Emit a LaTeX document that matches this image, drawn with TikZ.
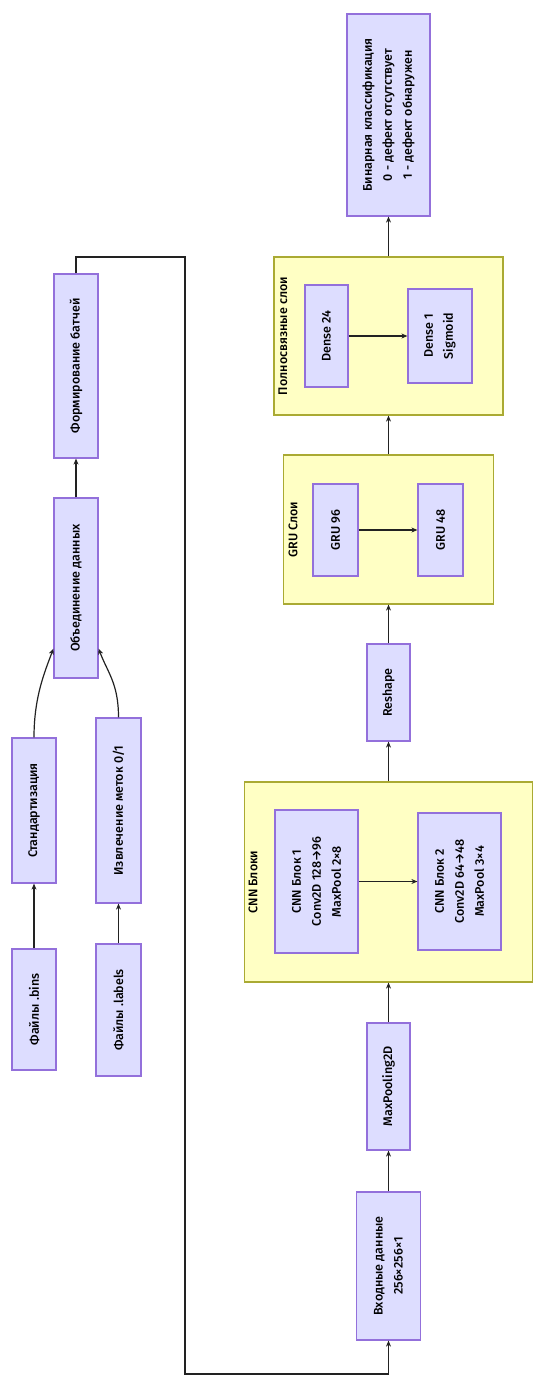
\documentclass[tikz,border=0pt]{standalone}
\usepackage{fontspec}
\setmainfont{Fira Sans}[BoldFont={* Medium}]
\usetikzlibrary{arrows.meta,calc}
\definecolor{boxfill}{RGB}{221,221,255}
\definecolor{boxline}{RGB}{147,112,219}
\definecolor{grpfill}{RGB}{255,255,196}
\definecolor{grpline}{RGB}{170,170,51}
\definecolor{edge}{RGB}{34,34,34}

\begin{document}
\begin{tikzpicture}[x=1pt,y=-1pt,
  box/.style={draw=boxline,fill=boxfill,line width=1.2pt,rotate=90,align=center,inner sep=0pt,font=\fontsize{12.5}{20}\selectfont\bfseries},
  grp/.style={draw=grpline,fill=grpfill,line width=1.2pt,rotate=90,inner sep=0pt},
  grptitle/.style={rotate=90,inner sep=0pt,font=\fontsize{12.5}{20}\selectfont\bfseries},
  link/.style={draw=edge,line width=1.2pt,-{Stealth[length=6pt,width=5pt]}}]
  \useasboundingbox (0,0) rectangle (553,1383);
  % clusters
  \node[grp,minimum width=158,minimum height=229] (fc) at (388.5,336) {};
  \node[grp,minimum width=149,minimum height=210] (gru) at (388.5,529.5) {};
  \node[grp,minimum width=200,minimum height=288] (cnn) at (388.5,882) {};
  \node[grptitle] (fct) at (283,336) {Полносвязные слои};
  \node[grptitle] (grut) at (293,529.5) {GRU Слои};
  \node[grptitle] (cnnt) at (253,882) {CNN Блоки};
  % main column
  \node[box,minimum width=202,minimum height=83] (out) at (388.5,115) {Бинарная классификация\\0 - дефект отсутствует\\1 - дефект обнаружен};
  \node[box,minimum width=102,minimum height=43] (d24) at (326.5,336) {Dense 24};
  \node[box,minimum width=94,minimum height=64] (d1) at (440,336) {Dense 1\\Sigmoid};
  \node[box,minimum width=92,minimum height=45] (g96) at (335.5,530) {GRU 96};
  \node[box,minimum width=92,minimum height=45] (g48) at (440.5,530) {GRU 48};
  \node[box,minimum width=97,minimum height=43] (resh) at (388.5,692.5) {Reshape};
  \node[box,minimum width=143,minimum height=83] (cb1) at (316.5,881.5) {CNN Блок 1\\Conv2D 128→96\\MaxPool 2×8};
  \node[box,minimum width=137,minimum height=83] (cb2) at (459.5,881.5) {CNN Блок 2\\Conv2D 64→48\\MaxPool 3×4};
  \node[box,minimum width=127,minimum height=43] (mp) at (388.5,1086.5) {MaxPooling2D};
  \node[box,minimum width=148,minimum height=64] (inp) at (388.5,1266) {Входные данные\\256×256×1};
  % data column
  \node[box,minimum width=184,minimum height=44] (batch) at (76,366) {Формирование батчей};
  \node[box,minimum width=180,minimum height=44] (merge) at (76,588) {Объединение данных};
  \node[box,minimum width=145,minimum height=44] (std) at (34,810.5) {Стандартизация};
  \node[box,minimum width=185,minimum height=45] (lab) at (118.5,810.5) {Извлечение меток 0/1};
  \node[box,minimum width=121,minimum height=44] (bins) at (34,1009.5) {Файлы .bins};
  \node[box,minimum width=132,minimum height=45] (labels) at (118.5,1010) {Файлы .labels};
  \coordinate (mergeL) at ($(merge.north west)+(0,-30)$);
  \coordinate (mergeR) at ($(merge.south west)+(0,-30)$);
  \coordinate (loopT) at (185,257);
  \coordinate (loopB) at (185,1374);
  % connectors
  \draw[link] (bins.east) -- (std.west);
  \draw[link] (labels.east) -- (lab.west);
  \draw[link] (std.east) .. controls ($(std.east)+(0,-40)$) and ($(mergeL)+(-9,24)$) .. (mergeL);
  \draw[link] (lab.east) .. controls ($(lab.east)+(0,-34)$) and ($(mergeR)+(9,24)$) .. (mergeR);
  \draw[link] (merge.east) -- (batch.west);
  \draw[link] (batch.east) |- (loopT) -- (loopB) -| (inp.west);
  \draw[link] (inp.east) -- (mp.west);
  \draw[link] (mp.east) -- (cnn.west);
  \draw[link] (cb1.south) -- (cb2.north);
  \draw[link] (cnn.east) -- (resh.west);
  \draw[link] (resh.east) -- (gru.west);
  \draw[link] (g96.south) -- (g48.north);
  \draw[link] (gru.east) -- (fc.west);
  \draw[link] (d24.south) -- (d1.north);
  \draw[link] (fc.east) -- (out.west);
\end{tikzpicture}
\end{document}
